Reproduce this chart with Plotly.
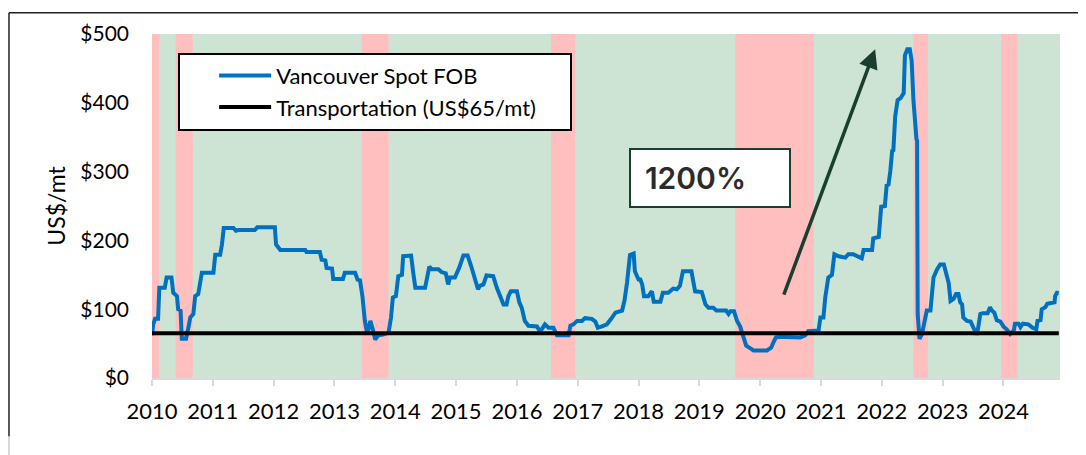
import plotly.graph_objects as go

# ---- data (decimal years, US$/mt) ----
years = [2010.00, 2010.02, 2010.05, 2010.10, 2010.12, 2010.21, 2010.24, 2010.32, 2010.35, 2010.41,
         2010.43, 2010.47, 2010.49, 2010.56, 2010.60, 2010.63, 2010.68, 2010.71, 2010.76, 2010.78,
         2010.82, 2011.01, 2011.04, 2011.12, 2011.15, 2011.18, 2011.34, 2011.38, 2011.42, 2011.69,
         2011.73, 2012.02, 2012.04, 2012.11, 2012.52, 2012.54, 2012.76, 2012.79, 2012.85, 2012.87,
         2012.96, 2012.98, 2013.14, 2013.17, 2013.34, 2013.38, 2013.42, 2013.46, 2013.50, 2013.54,
         2013.59, 2013.63, 2013.67, 2013.72, 2013.80, 2013.89, 2013.93, 2013.96, 2014.01, 2014.05,
         2014.11, 2014.13, 2014.26, 2014.30, 2014.33, 2014.49, 2014.52, 2014.56, 2014.60, 2014.71,
         2014.76, 2014.83, 2014.87, 2014.90, 2014.98, 2015.05, 2015.12, 2015.19, 2015.25, 2015.31,
         2015.36, 2015.39, 2015.45, 2015.50, 2015.61, 2015.67, 2015.72, 2015.78, 2015.83, 2015.86,
         2015.90, 2016.00, 2016.04, 2016.08, 2016.13, 2016.19, 2016.33, 2016.37, 2016.41, 2016.46,
         2016.52, 2016.60, 2016.66, 2016.85, 2016.88, 2016.93, 2016.99, 2017.07, 2017.12, 2017.23,
         2017.29, 2017.33, 2017.40, 2017.48, 2017.55, 2017.62, 2017.73, 2017.77, 2017.81, 2017.86,
         2017.92, 2017.94, 2018.00, 2018.03, 2018.06, 2018.09, 2018.16, 2018.22, 2018.25, 2018.36,
         2018.40, 2018.49, 2018.57, 2018.63, 2018.68, 2018.73, 2018.87, 2018.93, 2019.04, 2019.10,
         2019.15, 2019.23, 2019.28, 2019.44, 2019.48, 2019.51, 2019.57, 2019.62, 2019.67, 2019.73,
         2019.77, 2019.84, 2019.89, 2020.11, 2020.18, 2020.22, 2020.26, 2020.33, 2020.66, 2020.74,
         2020.79, 2020.96, 2020.99, 2021.04, 2021.07, 2021.12, 2021.18, 2021.22, 2021.29, 2021.40,
         2021.45, 2021.53, 2021.59, 2021.67, 2021.70, 2021.84, 2021.86, 2021.95, 2021.99, 2022.05,
         2022.08, 2022.11, 2022.14, 2022.17, 2022.19, 2022.22, 2022.26, 2022.31, 2022.36, 2022.38,
         2022.42, 2022.46, 2022.49, 2022.52, 2022.57, 2022.58, 2022.59, 2022.62, 2022.66, 2022.71,
         2022.74, 2022.80, 2022.85, 2022.91, 2022.96, 2023.02, 2023.06, 2023.10, 2023.13, 2023.18,
         2023.22, 2023.26, 2023.29, 2023.32, 2023.34, 2023.40, 2023.46, 2023.52, 2023.55, 2023.57,
         2023.62, 2023.66, 2023.74, 2023.78, 2023.81, 2023.85, 2023.89, 2023.95, 2024.00, 2024.06,
         2024.11, 2024.17, 2024.19, 2024.25, 2024.28, 2024.32, 2024.41, 2024.48, 2024.54, 2024.56,
         2024.61, 2024.63, 2024.69, 2024.72, 2024.80, 2024.84, 2024.85, 2024.88, 2024.91]

spot_fob = [62, 78, 86, 86, 131, 131, 146, 146, 124, 119,
            100, 98, 57, 57, 74, 88, 93, 119, 122, 134,
            153, 153, 179, 179, 194, 218, 218, 214, 215, 215,
            219, 219, 194, 186, 186, 183, 183, 172, 171, 160,
            159, 144, 144, 153, 153, 143, 142, 119, 83, 64,
            83, 71, 56, 62, 63, 66, 88, 117, 119, 148,
            150, 177, 178, 150, 131, 131, 148, 162, 158, 158,
            154, 152, 136, 146, 146, 160, 178, 178, 162, 146,
            129, 134, 136, 149, 148, 131, 119, 107, 107, 119,
            126, 126, 110, 102, 83, 76, 75, 69, 71, 78,
            73, 73, 62, 62, 76, 78, 83, 83, 87, 86,
            82, 73, 75, 78, 86, 95, 98, 113, 138, 179,
            181, 155, 143, 143, 136, 119, 119, 126, 111, 111,
            124, 124, 130, 129, 134, 155, 155, 126, 125, 107,
            102, 102, 98, 98, 93, 97, 97, 83, 75, 59,
            47, 43, 40, 40, 44, 52, 59, 60, 59, 62,
            68, 69, 88, 88, 117, 146, 150, 180, 177, 175,
            180, 180, 177, 174, 186, 186, 203, 205, 249, 250,
            280, 281, 301, 330, 331, 380, 404, 407, 414, 469,
            478, 478, 462, 404, 347, 345, 93, 57, 64, 83,
            98, 98, 146, 158, 165, 165, 153, 138, 112, 115,
            122, 122, 110, 107, 88, 83, 82, 69, 65, 65,
            93, 94, 94, 103, 98, 95, 84, 82, 75, 70,
            64, 69, 79, 79, 74, 79, 78, 73, 71, 83,
            84, 100, 103, 108, 110, 110, 119, 124, 124]

transport_rate = 65
transport_x = [years[0], years[-1]]
transport_y = [transport_rate, transport_rate]

# shaded (red) periods: start, end in decimal years
band_start = [2010.00, 2010.39, 2013.45, 2016.56, 2019.59, 2022.52, 2023.96]
band_end = [2010.12, 2010.67, 2013.89, 2016.96, 2020.88, 2022.76, 2024.23]

tick_years = list(range(2010, 2025))
y_ticks = [0, 100, 200, 300, 400, 500]
y_tick_labels = ["$0", "$100", "$200", "$300", "$400", "$500"]

# annotation anchors
pct_label = "\u2009\u20091200%"
pct_pos = (2019.18, 290)
arrow_tail = (2020.38, 119)
arrow_head = (2021.89, 478)

FONT = "Lato"

fig = go.Figure()
fig.add_trace(go.Scatter(
    x=years, y=spot_fob, mode="lines", name="Vancouver Spot FOB",
    line=dict(color="#0070C0", width=4)))
fig.add_trace(go.Scatter(
    x=transport_x, y=transport_y, mode="lines",
    name="Transportation (US$65/mt)\u00a0\u00a0\u00a0\u00a0\u00a0",
    line=dict(color="#000000", width=4)))

shapes = []
for s, e in zip(band_start, band_end):
    shapes.append(dict(type="rect", xref="x", yref="paper", x0=s, x1=e, y0=0, y1=1,
                       fillcolor="#FFBFBF", line=dict(width=0), layer="below"))
# outer frame lines (top and left)
shapes.append(dict(type="line", xref="paper", yref="paper", x0=-0.1575, x1=1.05, y0=1.0615, y1=1.0615,
                   line=dict(color="#222222", width=1.5)))
shapes.append(dict(type="line", xref="paper", yref="paper", x0=-0.1575, x1=-0.1575, y0=1.0615, y1=-0.17,
                   line=dict(color="#222222", width=1.5)))
shapes.append(dict(type="line", xref="paper", yref="paper", x0=-0.1575, x1=-0.1575, y0=-0.17, y1=-0.23,
                   line=dict(color="#CCCCCC", width=1.5)))

annotations = [
    dict(x=arrow_head[0], y=arrow_head[1], ax=arrow_tail[0], ay=arrow_tail[1],
         xref="x", yref="y", axref="x", ayref="y", text="", showarrow=True,
         arrowhead=2, arrowsize=1.1, arrowwidth=3.5, arrowcolor="#1B3F2E"),
    dict(x=pct_pos[0], y=pct_pos[1], xref="x", yref="y", text=pct_label, showarrow=False,
         font=dict(family="Inter", size=30, color="#2B2B2B", weight=600),
         bgcolor="#FFFFFF", bordercolor="#1B3F2E", borderwidth=2, borderpad=4,
         width=150, height=48, align="left", xanchor="center", yanchor="middle"),
]

# the page body adds an 8px offset; margins are reduced to compensate
fig.update_layout(
    width=1078, height=447,
    margin=dict(l=144, r=26, t=22, b=77),
    paper_bgcolor="#FFFFFF", plot_bgcolor="#CDE4D5",
    font=dict(family=FONT, size=20, color="#000000"),
    showlegend=True,
    legend=dict(x=0.0286, y=0.946, xanchor="left", yanchor="top",
                bgcolor="#FFFFFF", bordercolor="#000000", borderwidth=2,
                font=dict(family=FONT, size=22, color="#000000"),
                title=dict(text="MM", side="left", font=dict(size=13, color="#FFFFFF")),
                itemwidth=52, tracegroupgap=0),
    shapes=shapes, annotations=annotations,
    xaxis=dict(range=[2010, 2024.93], tickmode="array", tickvals=tick_years,
               ticktext=[str(t) for t in tick_years], showgrid=False, zeroline=False,
               showline=True, linecolor="#D9D9D9", linewidth=2,
               ticks="outside", ticklen=6, tickwidth=2, tickcolor="#D9D9D9",
               ticklabelstandoff=7, tickfont=dict(family=FONT, size=22)),
    yaxis=dict(range=[0, 500], tickmode="array", tickvals=y_ticks, ticktext=y_tick_labels,
               showgrid=False, zeroline=False, showline=False, ticks="",
               ticklabelstandoff=22, tickfont=dict(family=FONT, size=21),
               title=dict(text="US$/mt", font=dict(family=FONT, size=23), standoff=8)),
)

fig.write_html("out.html")
